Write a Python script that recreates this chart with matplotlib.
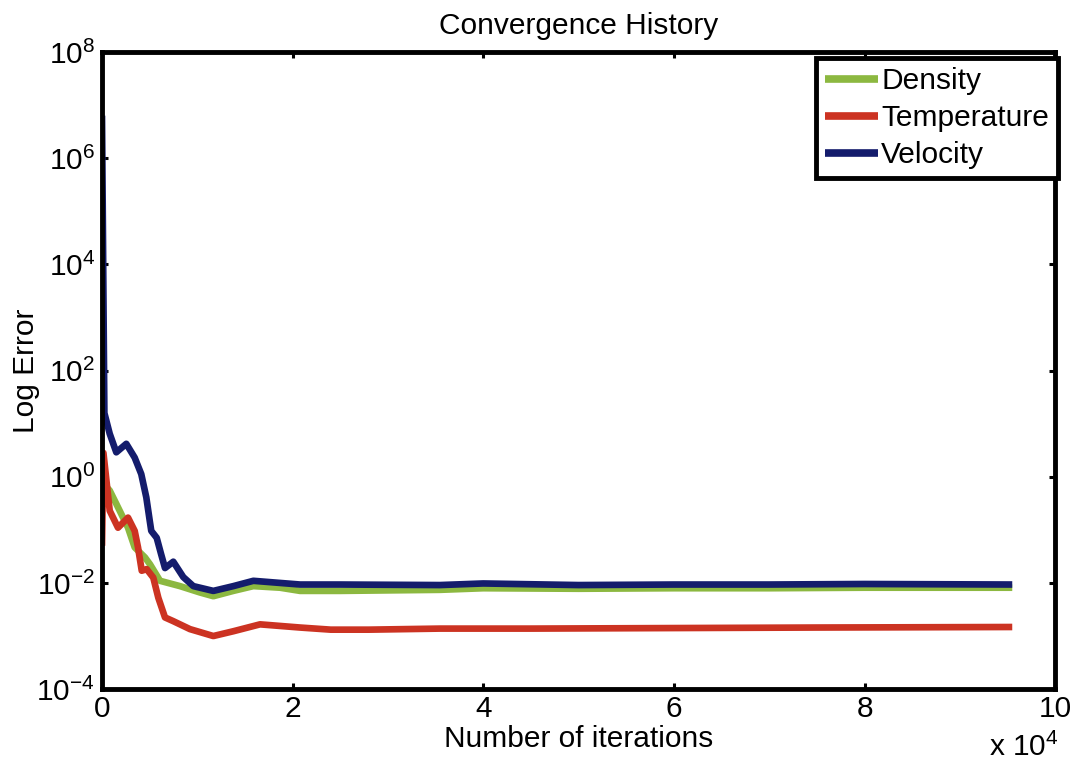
import matplotlib
matplotlib.use("Agg")
import matplotlib.pyplot as plt
from matplotlib.ticker import FixedLocator, FuncFormatter, NullLocator, LogFormatterSciNotation

plt.rcParams["font.family"] = ["Liberation Sans", "DejaVu Sans"]
plt.rcParams["mathtext.default"] = "regular"

# residual history (log10 of error) against iteration count
density_iter = [0, 810, 1500, 2730, 3430, 4510, 5040, 6090, 8180, 10280, 11680,
                13780, 15880, 18680, 20780, 24970, 35460, 40000, 50000, 60000,
                70000, 80000, 95500]
density_log = [-0.1, -0.26, -0.51, -0.96, -1.33, -1.52, -1.65, -1.96, -2.06,
               -2.18, -2.25, -2.15, -2.06, -2.09, -2.15, -2.15, -2.13, -2.10,
               -2.11, -2.10, -2.10, -2.09, -2.09]

temperature_iter = [0, 150, 810, 1680, 2730, 3430, 3780, 4170, 4690, 5380, 5910,
                    6610, 7480, 9230, 11680, 13780, 16580, 18680, 20780, 24000,
                    28000, 35460, 45000, 60000, 75000, 95500]
temperature_log = [-1.3, 0.45, -0.64, -0.96, -0.77, -1.02, -1.33, -1.77, -1.74,
                   -1.90, -2.28, -2.65, -2.72, -2.87, -3.0, -2.91, -2.78, -2.81,
                   -2.84, -2.88, -2.88, -2.86, -2.86, -2.85, -2.84, -2.83]

velocity_iter = [0, 250, 810, 1500, 2550, 3430, 4120, 4650, 5010, 5170, 5740,
                 6190, 6610, 7480, 8530, 9580, 11680, 13780, 15880, 18680,
                 20780, 24970, 35460, 40000, 50000, 60000, 70000, 80000, 95500]
velocity_log = [6.8, 1.2, 0.81, 0.46, 0.62, 0.36, 0.05, -0.39, -0.83, -1.02,
                -1.15, -1.45, -1.72, -1.60, -1.89, -2.06, -2.15, -2.06, -1.96,
                -2.0, -2.03, -2.03, -2.04, -2.01, -2.04, -2.03, -2.03, -2.02,
                -2.03]

x_ticks = [0, 20000, 40000, 60000, 80000, 100000]
y_ticks = [1e-4, 1e-2, 1e0, 1e2, 1e4, 1e6, 1e8]

FS = 21.5

fig = plt.figure(figsize=(10.77, 7.64), dpi=100)
ax = fig.add_axes([0.0947, 0.098, 0.885, 0.834])

series = [
    ("Density", density_iter, density_log, "#8cb840"),
    ("Temperature", temperature_iter, temperature_log, "#cc3322"),
    ("Velocity", velocity_iter, velocity_log, "#141c6c"),
]
for name, xs, logs, color in series:
    ax.plot(xs, [10.0 ** v for v in logs], color=color, lw=4.8, label=name,
            solid_capstyle="butt", solid_joinstyle="round")

ax.set_yscale("log")
ax.set_xlim(0, 100000)
ax.set_ylim(1e-4, 1e8)
ax.yaxis.set_major_locator(FixedLocator(y_ticks))
ax.yaxis.set_minor_locator(NullLocator())
ax.yaxis.set_major_formatter(LogFormatterSciNotation())
ax.xaxis.set_major_locator(FixedLocator(x_ticks))
ax.xaxis.set_major_formatter(FuncFormatter(lambda v, p: f"{v / 1e4:g}"))

for side in ax.spines.values():
    side.set_linewidth(3.5)
ax.tick_params(which="both", direction="in", top=True, right=True,
               length=4.5, width=2.2, labelsize=FS)
ax.tick_params(axis="x", pad=4)
ax.tick_params(axis="y", pad=5)

ax.set_title("Convergence History", fontsize=FS, pad=13)
ax.set_xlabel("Number of iterations", fontsize=FS, labelpad=2)
ax.set_ylabel("Log Error", fontsize=FS, labelpad=-3)
fig.text(0.918, 0.022, "x 10$^4$", fontsize=FS, ha="left", va="center")

leg = ax.legend(loc="upper right", bbox_to_anchor=(1.003, 0.99),
                borderaxespad=0, fontsize=FS, handlelength=1.75,
                handletextpad=0.12, labelspacing=0.3, borderpad=0.3,
                fancybox=False, framealpha=1)
leg.get_frame().set_edgecolor("black")
leg.get_frame().set_linewidth(3.5)
for line in leg.get_lines():
    line.set_linewidth(5.5)

fig.savefig("out.png", dpi=100, facecolor="white")
